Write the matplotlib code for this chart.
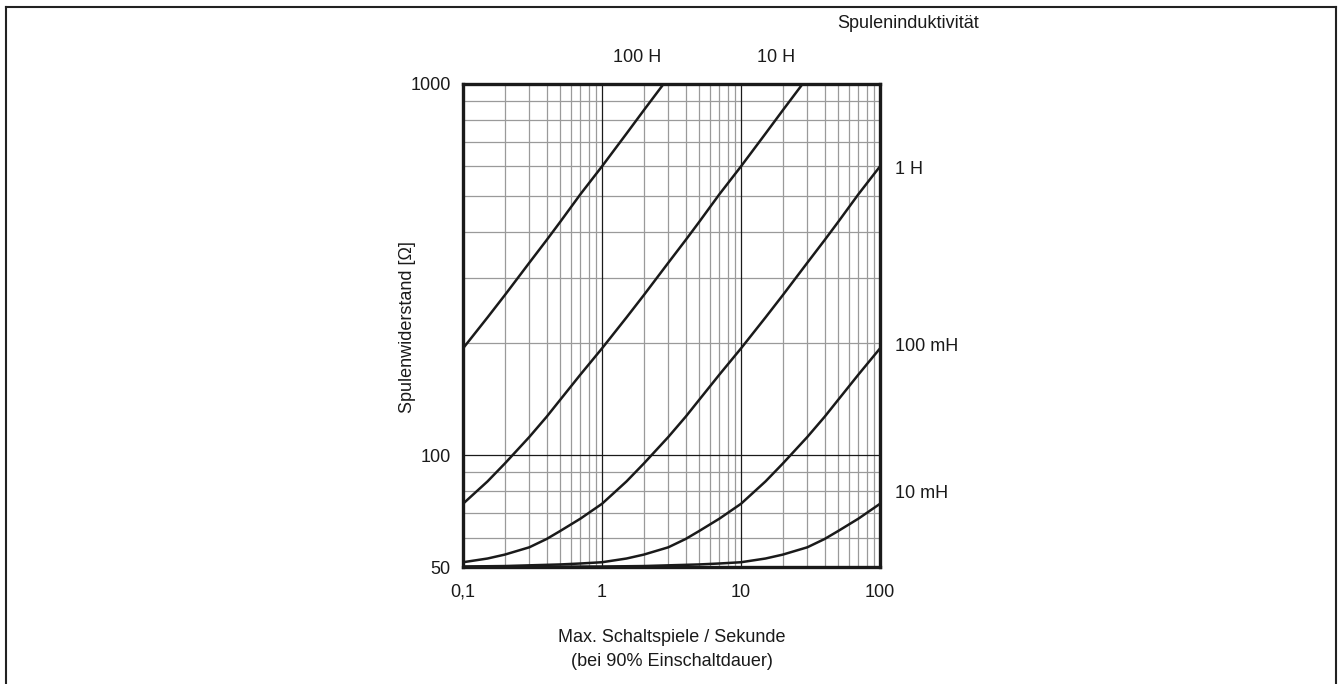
import numpy as np
import matplotlib.pyplot as plt
from matplotlib.lines import Line2D
from matplotlib.ticker import FixedLocator, NullFormatter

plt.rcParams['font.family'] = ['Liberation Sans', 'DejaVu Sans']

# --- data (switching rate [1/s] vs coil resistance [Ohm]) ---
f_100H = [0.1, 0.15, 0.2, 0.3, 0.4, 0.5, 0.7, 1, 1.5, 2, 3]
r_100H = [194, 235, 270, 330, 380, 425, 505, 600, 735, 850, 1040]

f_10H = [0.1, 0.15, 0.2, 0.3, 0.4, 0.5, 0.7, 1, 1.5, 2, 3, 4, 5, 7, 10, 15, 20, 30]
r_10H = [74, 85, 95, 112, 127, 141, 165, 194, 235, 270, 330, 380, 425, 505, 600, 735, 850, 1040]

f_1H = [0.1, 0.15, 0.2, 0.3, 0.4, 0.5, 0.7, 1, 1.5, 2, 3, 4, 5, 7, 10, 15, 20, 30, 40, 50, 70, 100]
r_1H = [51.5, 52.7, 54, 56.5, 59.5, 62.5, 67.5, 74, 85, 95, 112, 127, 141, 165, 194, 235, 270, 330, 380, 425, 505, 600]

f_100mH = [0.1, 0.2, 0.5, 0.7, 1, 1.5, 2, 3, 4, 5, 7, 10, 15, 20, 30, 40, 50, 70, 100]
r_100mH = [50.15, 50.3, 50.8, 51.1, 51.5, 52.7, 54, 56.5, 59.5, 62.5, 67.5, 74, 85, 95, 112, 127, 141, 165, 194]

f_10mH = [0.1, 1, 2, 5, 7, 10, 15, 20, 30, 40, 50, 70, 100]
r_10mH = [50.0, 50.15, 50.3, 50.8, 51.1, 51.5, 52.7, 54, 56.5, 59.5, 62.5, 67.5, 74]

x_ticks = [0.1, 1, 10, 100]
x_ticklabels = ['0,1', '1', '10', '100']
y_ticks = [50, 100, 1000]
y_ticklabels = ['50', '100', '1000']

W, H = 1338, 684
fig = plt.figure(figsize=(W / 100, H / 100), dpi=100)
ax = fig.add_axes([463 / W, 1 - 567 / H, 417 / W, 483 / H])

ax.set_xscale('log')
ax.set_yscale('log')
ax.set_xlim(0.1, 100)
ax.set_ylim(50, 1000)

# grid: gray minor lines, black decade lines
x_minor = [m * d for d in (0.1, 1, 10) for m in range(2, 10)]
y_minor = [60, 70, 80, 90] + [m * 100 for m in range(2, 10)]
for x in x_minor:
    ax.axvline(x, color='#9a9a9a', lw=0.9, zorder=1)
for y in y_minor:
    ax.axhline(y, color='#9a9a9a', lw=0.9, zorder=1)
for x in (1, 10):
    ax.axvline(x, color='#1a1a1a', lw=0.9, zorder=1)
ax.axhline(100, color='#1a1a1a', lw=0.9, zorder=1)

for fx, ry in [(f_100H, r_100H), (f_10H, r_10H), (f_1H, r_1H),
               (f_100mH, r_100mH), (f_10mH, r_10mH)]:
    ax.plot(fx, ry, color='#1a1a1a', lw=1.8, zorder=3)

ax.xaxis.set_major_locator(FixedLocator(x_ticks))
ax.set_xticklabels(x_ticklabels)
ax.xaxis.set_minor_formatter(NullFormatter())
ax.yaxis.set_major_locator(FixedLocator(y_ticks))
ax.set_yticklabels(y_ticklabels)
ax.yaxis.set_minor_formatter(NullFormatter())
ax.tick_params(which='both', length=0, labelsize=13, colors='#1a1a1a')
ax.tick_params(axis='x', pad=12)
ax.tick_params(axis='y', pad=9)
for s in ax.spines.values():
    s.set_linewidth(2.4)
    s.set_color('#1a1a1a')
    s.set_zorder(4)

def px(x, y):
    return x / W, 1 - y / H

kw = dict(fontsize=13, color='#1a1a1a')
fig.text(*px(637, 57), '100 H', ha='center', va='center', **kw)
fig.text(*px(776, 57), '10 H', ha='center', va='center', **kw)
fig.text(*px(908, 24), 'Spuleninduktivität', ha='center', va='center', **kw)
fig.text(*px(895, 170), '1 H', ha='left', va='center', **kw)
fig.text(*px(895, 346), '100 mH', ha='left', va='center', **kw)
fig.text(*px(895, 494), '10 mH', ha='left', va='center', **kw)
fig.text(*px(408, 327), 'Spulenwiderstand [Ω]', ha='center', va='center', rotation=90, **kw)
fig.text(*px(672, 638), 'Max. Schaltspiele / Sekunde', ha='center', va='center', **kw)
fig.text(*px(672, 661), '(bei 90% Einschaltdauer)', ha='center', va='center', **kw)

# outer frame (open at the bottom)
frame = dict(color='#222222', lw=1.5, transform=fig.transFigure)
fig.add_artist(Line2D([6 / W, 1336 / W], [1 - 7 / H, 1 - 7 / H], **frame))
fig.add_artist(Line2D([6 / W, 6 / W], [1 - 7 / H, 0], **frame))
fig.add_artist(Line2D([1336 / W, 1336 / W], [1 - 7 / H, 0], **frame))

fig.savefig('out.png', dpi=100)
